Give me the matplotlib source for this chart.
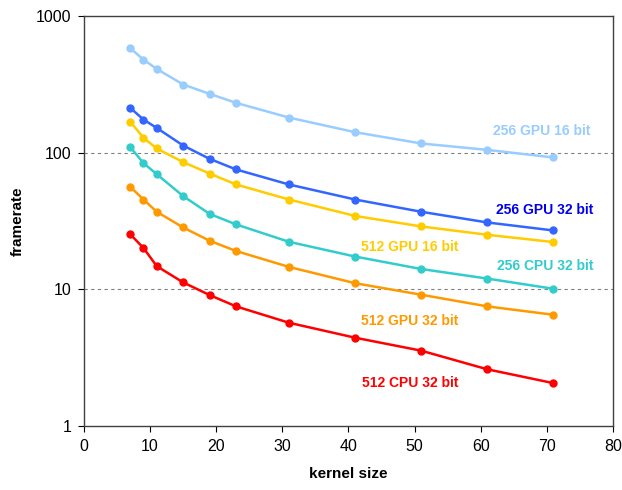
import numpy as np
import matplotlib.pyplot as plt

plt.rcParams['font.family'] = ['Liberation Sans', 'DejaVu Sans']

kernel = [7, 9, 11, 15, 19, 23, 31, 41, 51, 61, 71]

gpu256_16 = [582, 481, 411, 316, 270, 232, 181, 141.5, 117, 105, 92.4]
gpu256_32 = [213, 175, 152, 113, 90.3, 75.5, 58.6, 45.5, 37, 30.9, 27]
gpu512_16 = [169, 128.6, 107.5, 85.4, 70.5, 58.6, 45.5, 34.5, 28.9, 25.1, 22.2]
cpu256_32 = [110, 84, 69.7, 48.2, 35.7, 29.9, 22.3, 17.4, 14.1, 12.0, 10.1]
gpu512_32 = [56.3, 45.5, 37, 28.4, 22.7, 19.1, 14.6, 11.1, 9.14, 7.51, 6.52]
cpu512_32 = [25.3, 20.1, 14.8, 11.25, 9.09, 7.51, 5.7, 4.43, 3.56, 2.6, 2.06]

series = [
    ('256 GPU 16 bit', gpu256_16, '#99CCFF', '#99CCFF', (69.3, 144)),
    ('256 GPU 32 bit', gpu256_32, '#3366FF', '#0000EE', (69.7, 38)),
    ('512 GPU 16 bit', gpu512_16, '#FFCC00', '#FFCC00', (49.3, 20.4)),
    ('256 CPU 32 bit', cpu256_32, '#33CCCC', '#33CCCC', (69.8, 14.9)),
    ('512 GPU 32 bit', gpu512_32, '#FF9900', '#FF9900', (49.3, 5.87)),
    ('512 CPU 32 bit', cpu512_32, '#FF0000', '#FF0000', (49.4, 2.07)),
]

fig = plt.figure(figsize=(6.22, 4.9), dpi=100)
ax = fig.add_axes([0.135, 0.1306, 0.8505, 0.8364])

for name, vals, col, tcol, pos in series:
    ax.plot(kernel, vals, color=col, lw=1.8, marker='o', ms=5, mec=col, mfc=col)
    ax.text(pos[0], pos[1], name, color=tcol, fontsize=10, fontweight='bold',
            ha='center', va='center')

ax.set_yscale('log')
ax.set_xlim(0, 80)
ax.set_ylim(1, 1000)
ax.set_xticks(range(0, 81, 10))
ax.set_yticks([1, 10, 100, 1000])
ax.set_yticklabels(['1', '10', '100', '1000'])
ax.yaxis.set_minor_locator(plt.NullLocator())
for v in [10, 100]:
    ax.axhline(v, color='#808080', lw=0.8, ls=(0, (3, 3)), zorder=0)

ax.tick_params(axis='both', direction='out', length=4, width=0.8, labelsize=11.5, pad=5)
for sp in ax.spines.values():
    sp.set_color('#404040')
    sp.set_linewidth(1.0)

ax.set_xlabel('kernel size', fontsize=11, fontweight='bold', labelpad=10)
ax.set_ylabel('framerate', fontsize=11, fontweight='bold', labelpad=8)

fig.savefig('out.png', dpi=100)
